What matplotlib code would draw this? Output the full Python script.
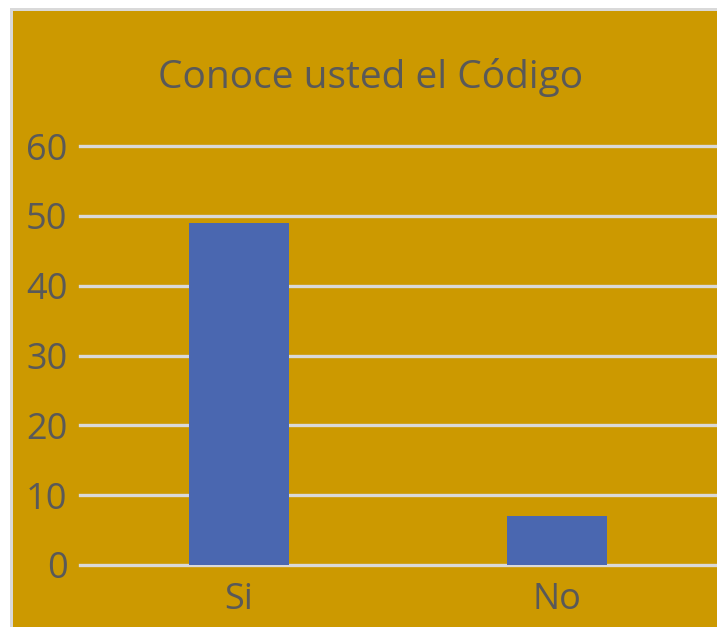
import matplotlib
matplotlib.use("Agg")
import matplotlib.pyplot as plt
from matplotlib.patches import Rectangle

categories = ["Si", "No"]
values = [49, 7]
yticks = [0, 10, 20, 30, 40, 50, 60]
title = "Conoce usted el Código"

W, H = 717, 627
fig = plt.figure(figsize=(W / 100, H / 100), dpi=100)
fig.patch.set_facecolor("white")

# chart area with light gray border
fig.patches.append(Rectangle((10 / W, 0), 1.0, 1 - 8 / H, transform=fig.transFigure,
                             facecolor="#D9D9D9", edgecolor="none", zorder=-10))
fig.patches.append(Rectangle((13 / W, 0), 1.0, 1 - 11 / H, transform=fig.transFigure,
                             facecolor="#CC9900", edgecolor="none", zorder=-9))

font = "Open Sans"
tc = "#595959"

left, right = 80 / W, 716 / W
bottom, top = 1 - 565 / H, 1 - 146 / H
ax = fig.add_axes([left, bottom, right - left, top - bottom])
ax.set_facecolor("none")
ax.set_zorder(5)

x = list(range(len(categories)))
for yv in yticks:
    ax.axhline(yv, color="#D9D9D9", linewidth=2.4, clip_on=False, zorder=1)
ax.bar(x, values, width=0.315, color="#4A67B0", zorder=2)

ax.set_xlim(-0.5, len(categories) - 0.5)
ax.set_ylim(0, 60)
ax.set_yticks(yticks)
ax.set_yticklabels([str(v) for v in yticks], fontsize=26, color=tc, family=font)
ax.set_xticks(x)
ax.set_xticklabels(categories, fontsize=26, color=tc, family=font)
ax.tick_params(axis="y", length=0, pad=9)
ax.tick_params(axis="x", length=0, pad=12)
for s in ax.spines.values():
    s.set_visible(False)

fig.text(371 / W, 1 - 88 / H, title, ha="center", va="baseline",
         fontsize=28, color=tc, family=font, zorder=6)

fig.savefig("out.png", dpi=100, facecolor=fig.get_facecolor())
